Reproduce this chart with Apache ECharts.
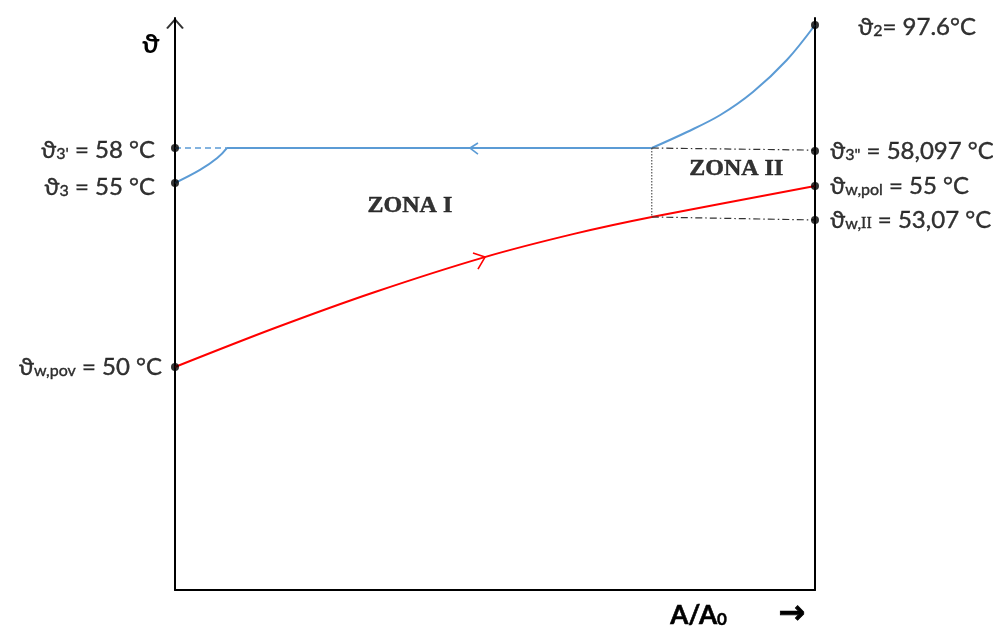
<!DOCTYPE html>
<html>
<head>
<meta charset="utf-8">
<script src="https://cdn.jsdelivr.net/npm/echarts@6/dist/echarts.min.js"></script>
<style>html,body{margin:0;padding:0;background:#fff;}#c{width:993px;height:630px;}</style>
</head>
<body>
<div id="c"></div>
<script>
// x: A/A0 (0 .. 1), y: schematic temperature position (0 .. 100)
const blueInlet = [[0, 71.15], [0.039, 73.43], [0.066, 75.52], [0.081, 77.27]];
const blueCondensing = [[0.081, 77.27], [0.745, 77.27]];
const blueSuperheat = [[0.745, 77.27], [0.80, 80.07], [0.852, 83.04], [0.903, 87.06], [0.956, 92.66], [1, 98.78]];
const blueDashed = [[0, 77.27], [0.081, 77.27]];
const redWater = [[0, 38.99], [0.156, 45.8], [0.3125, 52.1], [0.484, 58.2], [0.625, 62.3], [0.745, 65.21], [1, 70.63]];
const guideTop = [[0.745, 77.27], [1, 76.9]];
const guideVert = [[0.745, 77.27], [0.745, 65.21]];
const guideBottom = [[0.745, 65.21], [1, 64.69]];
const arrowBlue = [[0.4734, 78.15], [0.461, 77.27], [0.4734, 76.22]];
const arrowRed = [[0.4656, 58.9], [0.4844, 58.2], [0.4734, 56.1]];
const axisTip = [[0, 100]];

const pointsLeft = [[0, 77.27], [0, 71.15], [0, 38.99]];
const labelsLeft = ["{m|ϑ}{s|3'}{m| = 58 °C}", "{m|ϑ}{s|3}{m| = 55 °C}", "{m|ϑ}{s|w,pov}{m| = 50 °C}"];
const pointsRight = [[1, 98.78], [1, 76.75], [1, 70.63], [1, 64.69]];
const labelsRight = ["{m|ϑ}{s|2}{m|= 97.6°C}", "{m|ϑ}{s|3\"}{m| = 58,097 °C}", "{m|ϑ}{s|w,pol}{m| = 55 °C}", "{m|ϑ}{s|w,}{r|II}{m| = 53,07 °C}"];
const zonePoints = [[0.367, 67.2], [0.877, 73.6]];
const zoneLabels = ['ZONA I', 'ZONA II'];
const axisTitleX = '{b|A/A}{s|0}';

const leftDist = [16, 16, 9];
const leftOff = [[0, 2], [0, 4], [0, 0]];
const rightDist = [39, 11, 11, 11];
const rightOff = [[0, 2], [0, 0], [0, 0], [0, 0]];

const FONT = 'Lato, "Noto Sans", sans-serif';
const TB = {textBorderColor: '#000', textBorderWidth: 0.4};
const rich = {
  m: Object.assign({fontSize: 24, fontFamily: FONT, color: '#000'}, TB),
  s: Object.assign({fontSize: 16, fontFamily: FONT, color: '#000', verticalAlign: 'bottom'}, TB),
  r: Object.assign({fontSize: 16, fontFamily: '"Liberation Serif", serif', color: '#000', verticalAlign: 'bottom'}, TB)
};

const BLUE = '#5b9bd5', RED = '#ff0000', AX = '#000';

function lineS(data, color, width, type, smooth) {
  return {type: 'line', data: data, symbol: 'none', smooth: smooth || false, clip: false, silent: true,
    lineStyle: {color: color, width: width, type: type || 'solid'}, z: 3};
}

const option = {
  animation: false,
  backgroundColor: '#fff',
  grid: {left: 175, right: 178, top: 18, bottom: 40},
  xAxis: {type: 'value', min: 0, max: 1, axisLine: {show: true, onZero: false, lineStyle: {color: AX, width: 2}},
    axisTick: {show: false}, axisLabel: {show: false}, splitLine: {show: false}},
  yAxis: [
    {type: 'value', min: 0, max: 100, axisLine: {show: true, onZero: false, lineStyle: {color: AX, width: 2}},
      axisTick: {show: false}, axisLabel: {show: false}, splitLine: {show: false}},
    {type: 'value', min: 0, max: 100, position: 'right', axisLine: {show: true, onZero: false, lineStyle: {color: AX, width: 2}},
      axisTick: {show: false}, axisLabel: {show: false}, splitLine: {show: false}}
  ],
  series: [
    lineS(blueInlet, BLUE, 2, 'solid', 0.35),
    lineS(blueCondensing, BLUE, 2),
    lineS(blueSuperheat, BLUE, 2, 'solid', 0.35),
    lineS(blueDashed, BLUE, 1.5, [6, 4]),
    lineS(redWater, RED, 2, 'solid', 0.3),
    lineS(guideTop, '#333', 1.2, [7, 3, 1.5, 3]),
    lineS(guideVert, '#333', 1, [1.5, 1.5]),
    lineS(guideBottom, '#333', 1.2, [7, 3, 1.5, 3]),
    lineS(arrowBlue, BLUE, 1.6),
    lineS(arrowRed, RED, 1.6),
    {type: 'scatter', clip: false, silent: true, data: axisTip, symbol: 'path://M0,12 L8,0 L16,12',
      symbolSize: [16, 12], symbolOffset: [0, 6], symbolKeepAspect: true,
      itemStyle: {color: 'none', borderColor: AX, borderWidth: 1.8}, z: 6},
    {type: 'scatter', clip: false, silent: true, symbolSize: 8, itemStyle: {color: '#000'}, z: 5,
      data: pointsLeft.map((p, i) => ({value: p, label: {show: true, position: 'left', distance: leftDist[i], offset: leftOff[i], formatter: labelsLeft[i], rich: rich}}))},
    {type: 'scatter', clip: false, silent: true, symbolSize: 8, itemStyle: {color: '#000'}, z: 5,
      data: pointsRight.map((p, i) => ({value: p, label: {show: true, position: 'right', distance: rightDist[i], offset: rightOff[i], formatter: labelsRight[i], rich: rich}}))},
    {type: 'scatter', clip: false, silent: true, symbolSize: 0, z: 5,
      data: zonePoints.map((p, i) => ({value: p, label: {show: true, position: 'inside', formatter: zoneLabels[i],
        fontFamily: '"Liberation Serif", "Times New Roman", serif', fontWeight: 'bold', fontSize: 24, color: '#000',
        textBorderColor: '#000', textBorderWidth: 0.5}}))}
  ],
  graphic: [
    {type: 'text', left: 142, top: 31, style: {text: 'ϑ', font: 'bold 27px ' + FONT, fill: '#000'}},
    {type: 'text', left: 670, top: 602, style: {text: axisTitleX, fill: '#000', rich: {
      b: {font: 'bold 26px ' + FONT, fill: '#000', stroke: '#000', lineWidth: 0.6},
      s: {font: 'bold 17px ' + FONT, fill: '#000', stroke: '#000', lineWidth: 0.4, verticalAlign: 'bottom'}}}},
    {type: 'text', left: 778, top: 598, style: {text: '→', font: 'bold 32px "DejaVu Sans", sans-serif', fill: '#000', stroke: '#000', lineWidth: 0.8}}
  ]
};

const chart = echarts.init(document.getElementById('c'), null, {renderer: 'canvas'});
chart.setOption(option);
</script>
</body>
</html>
